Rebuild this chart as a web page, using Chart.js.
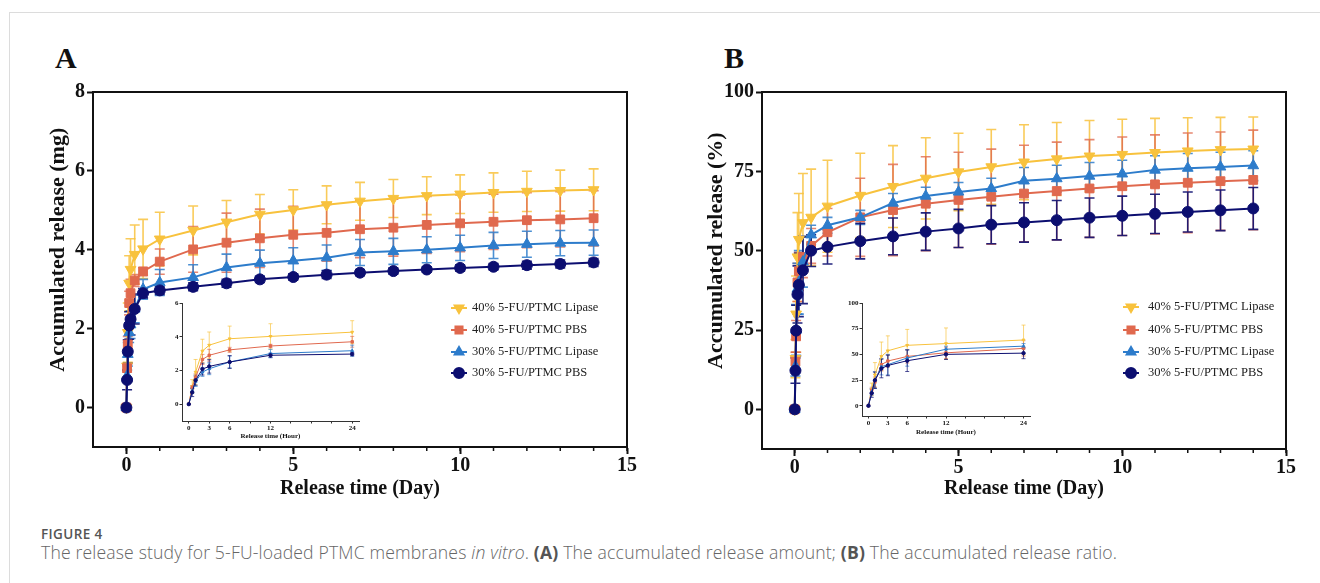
<!DOCTYPE html>
<html><head><meta charset="utf-8">
<script src="https://cdn.jsdelivr.net/npm/chart.js@4.4.1/dist/chart.umd.min.js"></script>
<style>
html,body{margin:0;padding:0;background:#fff;}
body{width:1320px;height:583px;position:relative;overflow:hidden;}
canvas{position:absolute;}
#frame{position:absolute;left:9px;top:12px;width:1330px;height:600px;border-left:1px solid #dcdcdc;border-top:1px solid #dcdcdc;}
.letter{position:absolute;font-family:"Liberation Serif",serif;font-weight:bold;font-size:30px;line-height:30px;color:#111;}
#cap1{position:absolute;left:41px;top:525px;font-family:"Open Sans",sans-serif;font-size:13.5px;line-height:18px;color:#555;font-weight:600;letter-spacing:0.4px;}
#cap2{position:absolute;left:41px;top:541px;font-family:"Open Sans",sans-serif;font-size:17.6px;line-height:22px;color:#666;white-space:nowrap;font-weight:300;letter-spacing:0.16px;}
#cap2 b{font-weight:700;color:#555;}
</style></head>
<body>
<div id="frame"></div>
<div class="letter" style="left:55px;top:43px">A</div>
<div class="letter" style="left:724px;top:43px">B</div>
<canvas id="mainA" style="left:20px;top:50px" width="640" height="460"></canvas>
<canvas id="insetA" style="left:150px;top:290px" width="220" height="160"></canvas>
<canvas id="mainB" style="left:690px;top:50px" width="630" height="460"></canvas>
<canvas id="insetB" style="left:830px;top:290px" width="220" height="160"></canvas>
<div id="cap1">FIGURE 4</div>
<div id="cap2">The release study for 5-FU-loaded PTMC membranes <i>in vitro</i>. <b>(A)</b> The accumulated release amount; <b>(B)</b> The accumulated release ratio.</div>
<script>
// ---------- data ----------
const timeDays = [0, 0.021, 0.042, 0.083, 0.125, 0.25, 0.5, 1, 2, 3, 4, 5, 6, 7, 8, 9, 10, 11, 12, 13, 14];
const insetHours = [0, 0.5, 1, 2, 3, 6, 12, 24];
const seriesLabels = ['40% 5-FU/PTMC Lipase', '40% 5-FU/PTMC PBS', '30% 5-FU/PTMC Lipase', '30% 5-FU/PTMC PBS'];

// (A) accumulated release amount, mg
const amountLipase40 = [0, 1.05, 1.9, 3.15, 3.5, 3.88, 4.02, 4.27, 4.49, 4.70, 4.90, 5.01, 5.14, 5.23, 5.30, 5.37, 5.41, 5.45, 5.48, 5.50, 5.52];
const amountLipase40Sd = [0, 0.4, 0.75, 0.7, 0.78, 0.75, 0.75, 0.68, 0.62, 0.55, 0.5, 0.51, 0.48, 0.48, 0.48, 0.48, 0.49, 0.5, 0.51, 0.52, 0.53];
const amountPbs40 = [0, 1.0, 1.6, 2.65, 2.9, 3.22, 3.45, 3.70, 4.01, 4.18, 4.29, 4.38, 4.43, 4.52, 4.56, 4.63, 4.67, 4.71, 4.75, 4.77, 4.80];
const amountPbs40Sd = [0, 0.1, 0.2, 0.3, 0.35, 0.15, 0.1, 0.32, 0.58, 0.75, 0.74, 0.72, 0.72, 0.72, 0.72, 0.72, 0.72, 0.7, 0.7, 0.7, 0.7];
const amountLipase30 = [0, 0.8, 1.35, 1.9, 2.1, 2.5, 3.0, 3.17, 3.30, 3.55, 3.66, 3.72, 3.80, 3.93, 3.96, 4.00, 4.05, 4.11, 4.14, 4.17, 4.18];
const amountLipase30Sd = [0, 0.15, 0.3, 0.25, 0.35, 0.35, 0.25, 0.33, 0.32, 0.34, 0.33, 0.33, 0.32, 0.33, 0.33, 0.33, 0.32, 0.33, 0.33, 0.32, 0.32];
const amountPbs30 = [0, 0.7, 1.42, 2.08, 2.24, 2.5, 2.9, 2.97, 3.06, 3.15, 3.25, 3.31, 3.37, 3.42, 3.46, 3.50, 3.54, 3.57, 3.61, 3.64, 3.68];
const amountPbs30Sd = [0, 0.25, 0.3, 0.35, 0.4, 0.38, 0.12, 0.1, 0.1, 0.1, 0.08, 0.08, 0.1, 0.08, 0.08, 0.07, 0.08, 0.08, 0.1, 0.1, 0.1];

// (B) accumulated release ratio, %
const ratioLipase40 = [0, 16, 30, 48, 53.5, 58.8, 60.5, 64.0, 67.4, 70.2, 72.8, 74.8, 76.4, 77.9, 78.9, 79.8, 80.3, 80.9, 81.4, 81.8, 82.0];
const ratioLipase40Sd = [0, 6, 12, 14, 14.5, 15.5, 15.2, 14.5, 13.3, 12.9, 12.8, 12.2, 11.8, 11.8, 11.5, 11.2, 11.1, 10.8, 10.5, 10.2, 10.1];
const ratioPbs40 = [0, 15, 23, 40, 43.5, 48, 51.5, 55.8, 60.5, 62.8, 64.8, 66.0, 67.0, 68.0, 68.8, 69.6, 70.3, 70.9, 71.4, 71.9, 72.3];
const ratioPbs40Sd = [0, 3, 5, 6, 6, 6.5, 5.5, 7.5, 12.3, 14.4, 14.8, 15, 15, 15.2, 15.4, 15.4, 15.5, 15.6, 15.7, 15.5, 15.7];
const ratioLipase30 = [0, 13.5, 25, 38, 40, 46.5, 55, 58, 60.5, 65, 67.2, 68.5, 69.6, 72, 72.7, 73.5, 74.2, 75.4, 76, 76.4, 76.8];
const ratioLipase30Sd = [0, 3, 8, 8, 10, 8, 3, 2.5, 2.2, 3, 2.8, 3, 3.2, 4.2, 4.2, 4.3, 4.3, 4.5, 4.6, 4.6, 4.7];
const ratioPbs30 = [0, 12.2, 24.8, 36.2, 39.2, 43.8, 50.0, 51.2, 53.0, 54.5, 56.0, 57.0, 58.2, 58.9, 59.6, 60.4, 61.0, 61.6, 62.2, 62.7, 63.3];
const ratioPbs30Sd = [0, 4, 8, 9, 10, 10.5, 5, 5.4, 5.6, 5.8, 5.9, 6, 6, 6.2, 6.2, 6.2, 6.2, 6.2, 6.3, 6.4, 6.6];

// tick labels
const dayTicks = [0, 5, 10, 15];
const amountTicks = [0, 2, 4, 6, 8];
const ratioTicks = [0, 25, 50, 75, 100];
const hourTicks = [0, 3, 6, 12, 24];
const insetAmountTicks = [0, 2, 4, 6];
const insetRatioTicks = [0, 25, 50, 75, 100];

// ---------- styling ----------
const SERIF = '"Liberation Serif", "Times New Roman", serif';
const INK = '#111';
const seriesColors = ['#F8C23D', '#E0694E', '#2D7CCB', '#0C0E70'];
const errColors = ['rgba(248,194,61,0.85)', 'rgba(224,105,78,0.8)', 'rgba(45,124,203,0.85)', 'rgba(12,14,112,0.9)'];
const pointStyles = ['triangle', 'rect', 'triangle', 'circle'];
const pointRotations = [180, 0, 0, 0];
const drawOrder = [4, 3, 2, 1];

const errorBarPlugin = {
  id: 'errorBars',
  beforeDatasetsDraw(chart, args, opts) {
    const ctx = chart.ctx, xs = chart.scales.x, ys = chart.scales.y;
    const idx = chart.data.datasets.map((d, i) => i).sort((a, b) => chart.data.datasets[b].order - chart.data.datasets[a].order);
    idx.forEach(di => {
      const ds = chart.data.datasets[di];
      if (!ds.errors) return;
      ctx.save();
      ctx.strokeStyle = ds.errColor;
      ctx.lineWidth = opts.width;
      ds.data.forEach((p, i) => {
        const e = ds.errors[i];
        if (!e) return;
        const x = xs.getPixelForValue(p.x);
        const y1 = ys.getPixelForValue(p.y + e), y2 = ys.getPixelForValue(p.y - e);
        ctx.beginPath();
        ctx.moveTo(x, y1); ctx.lineTo(x, y2);
        ctx.moveTo(x - opts.cap, y1); ctx.lineTo(x + opts.cap, y1);
        ctx.moveTo(x - opts.cap, y2); ctx.lineTo(x + opts.cap, y2);
        ctx.stroke();
      });
      ctx.restore();
    });
  }
};

const framePlugin = {
  id: 'frameBox',
  afterDraw(chart, args, opts) {
    if (!opts.enabled) return;
    const ctx = chart.ctx, a = chart.chartArea, xs = chart.scales.x, ys = chart.scales.y;
    ctx.save();
    ctx.strokeStyle = INK;
    ctx.lineWidth = opts.width;
    ctx.beginPath();
    ctx.moveTo(a.left - 1, a.top); ctx.lineTo(a.right, a.top); ctx.lineTo(a.right, a.bottom + 1);
    ctx.stroke();
    // minor ticks on x axis
    ctx.lineWidth = 1.5;
    ctx.beginPath();
    for (let v = Math.ceil(xs.min); v <= xs.max; v += opts.minorStep) {
      if (v <= xs.min) continue;
      const x = xs.getPixelForValue(v);
      ctx.moveTo(x, a.bottom); ctx.lineTo(x, a.bottom + opts.minorLen);
    }
    ctx.stroke();
    // y axis title, centred on the labelled tick range
    if (opts.yTitle) {
      const t = ys.ticks;
      const yMid = (ys.getPixelForValue(t[0].value) + ys.getPixelForValue(t[t.length - 1].value)) / 2;
      ctx.translate(opts.yTitleX, yMid);
      ctx.rotate(-Math.PI / 2);
      ctx.fillStyle = INK;
      ctx.font = opts.yTitleFont;
      ctx.textAlign = 'center';
      ctx.textBaseline = 'middle';
      ctx.fillText(opts.yTitle, 0, 0);
    }
    ctx.restore();
  }
};

const keyPlugin = {
  id: 'seriesKey',
  afterDraw(chart, args, opts) {
    if (!opts.enabled) return;
    const ctx = chart.ctx;
    chart.data.datasets.forEach((ds, i) => {
      const y = opts.rows[i];
      ctx.save();
      ctx.strokeStyle = ds.borderColor;
      ctx.fillStyle = ds.borderColor;
      ctx.lineWidth = 2;
      ctx.beginPath(); ctx.moveTo(opts.x - 8, y); ctx.lineTo(opts.x + 8, y); ctx.stroke();
      Chart.helpers.drawPoint(ctx, {pointStyle: ds.pointStyle, rotation: ds.pointRotation, radius: opts.r, borderWidth: 1}, opts.x, y);
      ctx.fillStyle = '#222';
      ctx.font = opts.font;
      ctx.textBaseline = 'middle';
      ctx.textAlign = 'left';
      ctx.fillText(ds.label, opts.textX, y);
      ctx.restore();
    });
  }
};

function makeDatasets(xs, seriesList, errList, n, inset) {
  return seriesList.map((vals, k) => ({
    label: seriesLabels[k],
    data: xs.map((x, i) => ({x: x, y: vals[i]})).slice(0, n),
    errors: errList[k].slice(0, n),
    borderColor: seriesColors[k],
    backgroundColor: seriesColors[k],
    errColor: errColors[k],
    borderWidth: inset ? 1 : 2,
    pointStyle: pointStyles[k],
    pointRotation: pointRotations[k],
    pointRadius: inset ? 1.7 : (pointStyles[k] === 'circle' ? 5.5 : 6.2),
    pointBorderWidth: 1,
    pointBorderColor: seriesColors[k],
    pointBackgroundColor: seriesColors[k],
    tension: 0,
    order: drawOrder[k]
  }));
}

function buildChart(id, cfg) {
  const fs = cfg.inset ? 7 : 20;
  const tfs = cfg.inset ? 7 : 20;
  new Chart(document.getElementById(id), {
    type: 'line',
    data: {datasets: cfg.datasets},
    plugins: [errorBarPlugin, framePlugin, keyPlugin],
    options: {
      responsive: false,
      animation: false,
      devicePixelRatio: 1,
      events: [],
      layout: {padding: cfg.pad},
      plugins: {
        legend: {display: false},
        tooltip: {enabled: false},
        errorBars: {width: cfg.inset ? 0.8 : 1.6, cap: cfg.inset ? 2 : 5},
        frameBox: {enabled: !cfg.inset, width: 2, minorStep: 1, minorLen: 4,
                   yTitle: cfg.yTitle, yTitleX: cfg.yTitleX, yTitleFont: 'bold ' + (cfg.yTitleSize || 22) + 'px ' + SERIF},
        seriesKey: cfg.key || {enabled: false}
      },
      scales: {
        x: {
          type: 'linear', min: cfg.xMin, max: cfg.xMax,
          afterBuildTicks: s => { s.ticks = cfg.xTicks.map(v => ({value: v})); },
          afterFit: s => { s.height = cfg.xH; },
          ticks: {
            font: {family: SERIF, weight: 'bold', size: fs}, color: INK, padding: 0,
            maxRotation: 0, autoSkip: false,
            callback: v => (cfg.xLabels.includes(v) ? String(v) : '')
          },
          grid: {display: true, drawOnChartArea: false, drawTicks: true, tickLength: cfg.inset ? 2.5 : 7, tickColor: cfg.inset ? '#333' : INK, tickWidth: cfg.inset ? 1 : 2},
          border: {display: true, color: cfg.inset ? '#333' : INK, width: cfg.inset ? 1 : 2},
          title: {display: true, text: cfg.xTitle, color: INK, padding: 0, font: {family: SERIF, weight: 'bold', size: tfs}}
        },
        y: {
          type: 'linear', min: cfg.yMin, max: cfg.yMax,
          afterBuildTicks: s => { s.ticks = cfg.yTicks.map(v => ({value: v})); },
          afterFit: s => { s.width = cfg.yW; },
          ticks: {font: {family: SERIF, weight: 'bold', size: fs}, color: INK, padding: cfg.inset ? 1 : 2, autoSkip: false, callback: v => String(v)},
          grid: {display: true, drawOnChartArea: false, drawTicks: true, tickLength: cfg.inset ? 2.5 : 6, tickColor: cfg.inset ? '#333' : INK, tickWidth: cfg.inset ? 1 : 2},
          border: {display: true, color: cfg.inset ? '#333' : INK, width: cfg.inset ? 1 : 2},
          title: {display: false}
        }
      }
    }
  });
}

const amountSeries = [amountLipase40, amountPbs40, amountLipase30, amountPbs30];
const amountErrs = [amountLipase40Sd, amountPbs40Sd, amountLipase30Sd, amountPbs30Sd];
const ratioSeries = [ratioLipase40, ratioPbs40, ratioLipase30, ratioPbs30];
const ratioErrs = [ratioLipase40Sd, ratioPbs40Sd, ratioLipase30Sd, ratioPbs30Sd];
const keyFont = '12.5px "Liberation Serif", serif';

buildChart('mainA', {
  datasets: makeDatasets(timeDays, amountSeries, amountErrs, timeDays.length, false),
  pad: {left: 27, top: 42, right: 33, bottom: 9}, yW: 46, xH: 54,
  xMin: -1, xMax: 15, xTicks: dayTicks, xLabels: dayTicks,
  yMin: -1, yMax: 8, yTicks: amountTicks,
  xTitle: 'Release time (Day)', yTitle: 'Accumulated release (mg)', yTitleX: 38, yTitleSize: 22,
  key: {enabled: true, x: 439, textX: 452, rows: [258, 280, 302, 323], r: 5, font: keyFont}
});
buildChart('insetA', {
  inset: true,
  datasets: makeDatasets(insetHours, amountSeries, amountErrs, insetHours.length, true),
  pad: {left: 10, top: 13, right: 11, bottom: 10}, yW: 22, xH: 19,
  xMin: -1, xMax: 25, xTicks: [0, 3, 6, 9, 12, 15, 18, 21, 24], xLabels: hourTicks,
  yMin: -1, yMax: 6, yTicks: insetAmountTicks,
  xTitle: 'Release time (Hour)'
});
buildChart('mainB', {
  datasets: makeDatasets(timeDays, ratioSeries, ratioErrs, timeDays.length, false),
  pad: {left: 15, top: 42, right: 34, bottom: 9}, yW: 57, xH: 52,
  xMin: -1, xMax: 15, xTicks: dayTicks, xLabels: dayTicks,
  yMin: -12.5, yMax: 100, yTicks: ratioTicks,
  xTitle: 'Release time (Day)', yTitle: 'Accumulated release (%)', yTitleX: 26, yTitleSize: 22,
  key: {enabled: true, x: 441, textX: 458, rows: [257, 280, 302, 323], r: 5, font: keyFont}
});
buildChart('insetB', {
  inset: true,
  datasets: makeDatasets(insetHours, ratioSeries, ratioErrs, insetHours.length, true),
  pad: {left: 10, top: 13, right: 20, bottom: 14}, yW: 22, xH: 20,
  xMin: -1, xMax: 25, xTicks: [0, 3, 6, 9, 12, 15, 18, 21, 24], xLabels: hourTicks,
  yMin: -10, yMax: 100, yTicks: insetRatioTicks,
  xTitle: 'Release time (Hour)'
});
</script>
</body></html>
